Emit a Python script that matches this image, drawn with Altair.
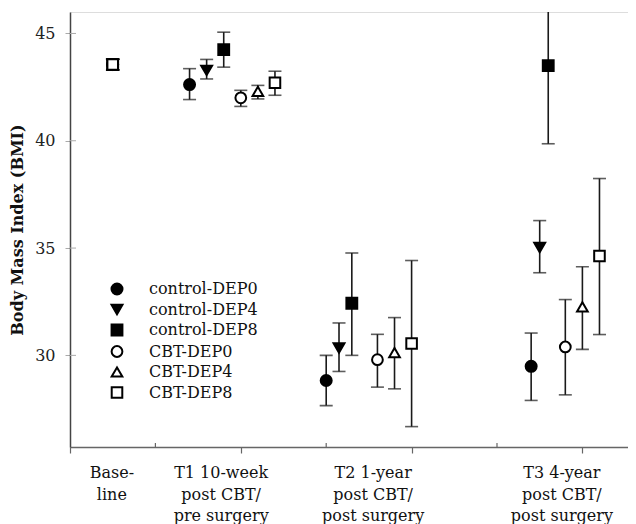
import altair as alt
import pandas as pd

series = ["control-DEP0", "control-DEP4", "control-DEP8", "CBT-DEP0", "CBT-DEP4", "CBT-DEP8"]
shapes = ["circle", "triangle-down", "square", "circle", "triangle-up", "square"]
fills = ["black", "black", "black", "white", "white", "white"]
strokes = ["black"] * 6
sizes = [121, 112, 78, 82, 100, 82]

# x positions (axis units) of each series at Baseline, T1, T2, T3
xpos = [
    [0.5, 1.4, 3.0, 5.4],
    [0.5, 1.6, 3.15, 5.5],
    [0.5, 1.8, 3.3, 5.6],
    [0.5, 2.0, 3.6, 5.8],
    [0.5, 2.2, 3.8, 6.0],
    [0.5, 2.4, 4.0, 6.2],
]
means = [
    [43.55, 42.62, 28.83, 29.49],
    [43.55, 43.28, 30.34, 35.03],
    [43.55, 44.25, 32.43, 43.50],
    [43.55, 42.00, 29.80, 30.39],
    [43.55, 42.30, 30.13, 32.26],
    [43.55, 42.70, 30.55, 34.63],
]
lows = [
    [43.30, 41.92, 27.66, 27.90],
    [43.30, 42.88, 29.25, 33.85],
    [43.30, 43.43, 30.00, 39.86],
    [43.30, 41.60, 28.52, 28.16],
    [43.30, 41.95, 28.44, 30.28],
    [43.30, 42.12, 26.68, 30.97],
]
highs = [
    [43.80, 43.36, 30.00, 31.04],
    [43.80, 43.79, 31.51, 36.28],
    [43.80, 45.06, 34.77, 47.14],
    [43.80, 42.35, 30.98, 32.60],
    [43.80, 42.58, 31.76, 34.13],
    [43.80, 43.24, 34.42, 38.24],
]

time_labels = ["Base-\nline", "T1 10-week\npost CBT/\npre surgery",
               "T2 1-year\npost CBT/\npost surgery", "T3 4-year\npost CBT/\npost surgery"]
label_pos = [0.49, 1.77, 3.55, 5.76]
yticks = [30, 35, 40, 45]
down_ticks = [0, 2, 4, 6]
up_ticks = [1, 3, 5]

rows = []
for i, s in enumerate(series):
    for t in range(4):
        rows.append({"series": s, "order": i, "x": xpos[i][t], "mean": means[i][t],
                     "low": lows[i][t], "high": highs[i][t]})
df = pd.DataFrame(rows)

W, H = 558, 435
FONT = "DejaVu Serif"
xscale = alt.Scale(domain=[0, 6.534], nice=False, zero=False)
yscale = alt.Scale(domain=[25.73, 46.0], nice=False, zero=False)

base = alt.Chart(df)

xaxis = alt.Axis(values=down_ticks, labels=False, title=None, grid=False,
                 domainColor="#666666", domainWidth=1.5, tickColor="#666666",
                 tickSize=6, tickWidth=1.2)
yaxis = alt.Axis(values=yticks, title="Body Mass Index (BMI)", grid=False,
                 domainColor="#444444", domainWidth=1.5, tickColor="#aaaaaa",
                 tickSize=5, tickWidth=1, labelPadding=10, labelFont=FONT,
                 labelFontSize=16, labelColor="#222222", titleFont=FONT,
                 titleFontSize=16, titleFontWeight="bold", titleColor="#111111",
                 titleX=-45, titleY=H / 2)

rules = base.mark_rule(color="#1a1a1a", strokeWidth=1.6, clip=True).encode(
    x=alt.X("x:Q", scale=xscale, axis=xaxis),
    y=alt.Y("low:Q", scale=yscale, axis=yaxis),
    y2="high:Q",
)
caps_lo = base.mark_tick(orient="horizontal", size=13, thickness=1.6, color="#1a1a1a", clip=True).encode(
    x=alt.X("x:Q", scale=xscale), y=alt.Y("low:Q", scale=yscale))
caps_hi = base.mark_tick(orient="horizontal", size=13, thickness=1.6, color="#1a1a1a", clip=True).encode(
    x=alt.X("x:Q", scale=xscale), y=alt.Y("high:Q", scale=yscale))

legend = alt.Legend(title=None, orient="none", legendX=39, legendY=269,
                    labelFont=FONT, labelFontSize=16, labelColor="#111111",
                    symbolStrokeWidth=2,
                    labelOffset=24, rowPadding=1.5, padding=0)

points = base.mark_point(filled=False, strokeWidth=2, opacity=1).encode(
    x=alt.X("x:Q", scale=xscale),
    y=alt.Y("mean:Q", scale=yscale),
    shape=alt.Shape("series:N", scale=alt.Scale(domain=series, range=shapes), legend=legend),
    fill=alt.Fill("series:N", scale=alt.Scale(domain=series, range=fills), legend=legend),
    stroke=alt.Stroke("series:N", scale=alt.Scale(domain=series, range=strokes), legend=legend),
    size=alt.Size("series:N", scale=alt.Scale(domain=series, range=sizes), legend=legend),
    order=alt.Order("order:Q"),
)

ydf = pd.DataFrame({"v": yticks})
inner_ticks = alt.Chart(ydf).mark_rule(color="#aaaaaa", strokeWidth=1).encode(
    y=alt.Y("v:Q", scale=yscale), x=alt.value(0), x2=alt.value(6))

udf = pd.DataFrame({"u": up_ticks})
up = alt.Chart(udf).mark_rule(color="#666666", strokeWidth=1.2).encode(
    x=alt.X("u:Q", scale=xscale), y=alt.value(H), y2=alt.value(H - 4))

ldf = pd.DataFrame({"label": time_labels, "pos": label_pos})
xlabels = alt.Chart(ldf).mark_text(font=FONT, fontSize=16, color="#111111", align="center",
                                   baseline="middle", lineBreak="\n", lineHeight=21.5).encode(
    x=alt.X("pos:Q", scale=xscale), y=alt.value(H + 26), text="label:N")

chart = alt.layer(inner_ticks, up, rules, caps_lo, caps_hi, points, xlabels).properties(
    width=W, height=H,
    autosize=alt.AutoSizeParams(type="none"),
    padding={"left": 62, "top": 4, "right": 0, "bottom": 77},
).configure_view(stroke=None).configure(background="white")

chart.save("out.html", embed_options={"renderer": "svg", "actions": False})
